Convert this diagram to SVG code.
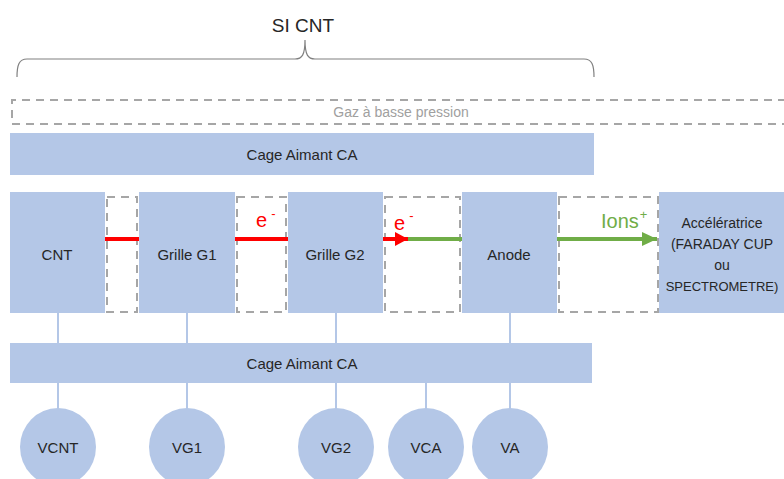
<svg xmlns="http://www.w3.org/2000/svg" width="784" height="479" viewBox="0 0 784 479">
<defs>
<style>
.box{fill:#b4c7e7;}
.dash{fill:none;stroke:#a6a6a6;stroke-width:2;stroke-dasharray:8,6;}
.lbl{font-family:"Liberation Sans",Arial,sans-serif;font-size:15px;fill:#262626;text-anchor:middle;}
.sm{font-size:14px;}
.wire{stroke:#b4c7e7;stroke-width:2;fill:none;}
.red{stroke:#ff0000;stroke-width:4;fill:none;}
.grn{stroke:#70ad47;stroke-width:4;fill:none;}
.ered{font-family:"Liberation Sans",Arial,sans-serif;font-size:20px;fill:#ff0000;}
.egrn{font-family:"Liberation Sans",Arial,sans-serif;font-size:20px;fill:#70ad47;}
</style>
<marker id="ahr" markerUnits="userSpaceOnUse" markerWidth="14" markerHeight="14" refX="13" refY="7" orient="auto">
<path d="M0,0 L13,7 L0,14 Z" fill="#ff0000"/>
</marker>
<marker id="ahg" markerUnits="userSpaceOnUse" markerWidth="16" markerHeight="16" refX="15" refY="8" orient="auto">
<path d="M0,1 L15,8 L0,15 Z" fill="#70ad47"/>
</marker>
</defs>
<rect width="784" height="479" fill="#ffffff"/>

<g id="title">
<text x="303" y="32" font-family="'Liberation Sans',Arial,sans-serif" font-size="19" fill="#262626" text-anchor="middle">SI CNT</text>
<path d="M17,77 C17,65 19,59 27,59 L295,59 C302,59 305,55 305,40 C305,55 308,59 315,59 L584,59 C592,59 594,65 594,77" fill="none" stroke="#808080" stroke-width="1.2"/>
</g>

<g id="gaz">
<path class="dash" d="M800,100 L12,100 L12,124 L800,124"/>
<text class="lbl sm" x="401" y="117" style="fill:#a0a0a0">Gaz à basse pression</text>
</g>

<g id="cage-top">
<rect class="box" x="10" y="133" width="584" height="42"/>
<text class="lbl" x="302" y="160">Cage Aimant CA</text>
</g>

<g id="gaps">
<rect class="dash" x="107" y="197" width="30" height="115"/>
<rect class="dash" x="237" y="197" width="49" height="115"/>
<rect class="dash" x="385" y="197" width="75" height="115"/>
<rect class="dash" x="559" y="197" width="99" height="115"/>
</g>

<g id="connectors">
<line class="wire" x1="58" y1="313" x2="58" y2="343"/>
<line class="wire" x1="187" y1="313" x2="187" y2="343"/>
<line class="wire" x1="336" y1="313" x2="336" y2="343"/>
<line class="wire" x1="510" y1="313" x2="510" y2="343"/>
<line class="wire" x1="58" y1="383" x2="58" y2="410"/>
<line class="wire" x1="187" y1="383" x2="187" y2="410"/>
<line class="wire" x1="336" y1="383" x2="336" y2="410"/>
<line class="wire" x1="426" y1="383" x2="426" y2="410"/>
<line class="wire" x1="510" y1="383" x2="510" y2="410"/>
<line class="red" x1="105" y1="239" x2="139" y2="239"/>
<line class="red" x1="235" y1="239" x2="288" y2="239"/>
<line class="red" x1="383" y1="239" x2="408" y2="239" marker-end="url(#ahr)"/>
<line class="grn" x1="408" y1="239" x2="462" y2="239"/>
<line class="grn" x1="557" y1="239" x2="657" y2="239" marker-end="url(#ahg)"/>
<text class="ered" x="256" y="227">e<tspan font-size="13" dx="4" dy="-9">-</tspan></text>
<text class="ered" x="394" y="230">e<tspan font-size="13" dx="4" dy="-10">-</tspan></text>
<text class="egrn" x="601" y="228">Ions<tspan font-size="13" dx="1" dy="-9">+</tspan></text>
</g>

<g id="cnt">
<rect class="box" x="10" y="192" width="95" height="121"/>
<text class="lbl" x="57" y="260">CNT</text>
</g>
<g id="g1">
<rect class="box" x="139" y="192" width="96" height="121"/>
<text class="lbl" x="187" y="260">Grille G1</text>
</g>
<g id="g2">
<rect class="box" x="288" y="192" width="95" height="121"/>
<text class="lbl" x="335" y="260">Grille G2</text>
</g>
<g id="anode">
<rect class="box" x="462" y="192" width="95" height="121"/>
<text class="lbl" x="509" y="260">Anode</text>
</g>
<g id="accel">
<rect class="box" x="659" y="192" width="140" height="121"/>
<text class="lbl sm" x="722" y="228">Accélératrice</text>
<text class="lbl sm" x="722" y="249">(FARADAY CUP</text>
<text class="lbl sm" x="722" y="270">ou</text>
<text class="lbl" x="722" y="291" style="font-size:13px">SPECTROMETRE)</text>
</g>

<g id="cage-bottom">
<rect class="box" x="10" y="343" width="582" height="40"/>
<text class="lbl" x="302" y="369">Cage Aimant CA</text>
</g>

<g id="vcnt">
<ellipse class="box" cx="58" cy="447" rx="38" ry="39"/>
<text class="lbl" x="58" y="453">VCNT</text>
</g>
<g id="vg1">
<ellipse class="box" cx="187" cy="447" rx="38" ry="39"/>
<text class="lbl" x="187" y="453">VG1</text>
</g>
<g id="vg2">
<ellipse class="box" cx="336" cy="447" rx="38" ry="39"/>
<text class="lbl" x="336" y="453">VG2</text>
</g>
<g id="vca">
<ellipse class="box" cx="426" cy="447" rx="38" ry="39"/>
<text class="lbl" x="426" y="453">VCA</text>
</g>
<g id="va">
<ellipse class="box" cx="510" cy="447" rx="38" ry="39"/>
<text class="lbl" x="510" y="453">VA</text>
</g>
</svg>
